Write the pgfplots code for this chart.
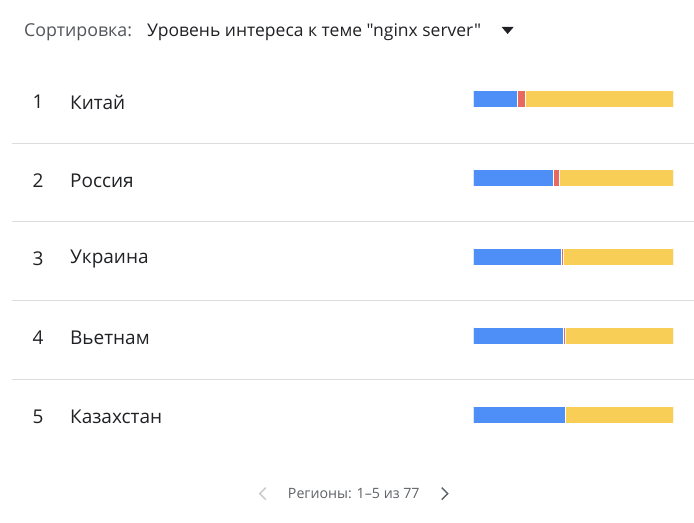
\documentclass[border=0pt]{standalone}
\usepackage{pgfplots}
\pgfplotsset{compat=1.18}
\usepackage{fontspec}
\newfontfamily\gfont{Open Sans}
\definecolor{gblue}{HTML}{4D8FF7}
\definecolor{gred}{HTML}{E86A5F}
\definecolor{gyellow}{HTML}{F9CE56}
\definecolor{gtext}{HTML}{202124}
\definecolor{ggrey}{HTML}{5F6368}
\definecolor{gline}{HTML}{DADCE0}
\begin{document}
\begin{tikzpicture}
\fill[white] (0,0) rectangle (694pt,-523pt);
% header
\node[anchor=west, font=\gfont\fontsize{17.8}{20}\selectfont, text=ggrey!80!gtext, inner sep=0] at (24pt,-32pt) {Сортировка:};
\node[anchor=west, font=\gfont\fontsize{17.5}{20}\selectfont, text=gtext, inner sep=0] at (147pt,-32pt) {Уровень интереса к теме "nginx server"};
\fill[gtext] (502pt,-27pt) -- (514pt,-27pt) -- (508pt,-34pt) -- cycle;
% separators
\foreach \yy in {144,222,301,380} {\draw[gline, line width=1pt] (12pt,-\yy pt) -- (694pt,-\yy pt);}
% row labels
\foreach \n/\name/\yy in {1/Китай/102,2/Россия/181,3/Украина/259,4/Вьетнам/338,5/Казахстан/417} {
  \node[font=\gfont\fontsize{19}{22}\selectfont, text=gtext, inner sep=0] at (38pt,-\yy pt) {\n};
  \node[anchor=west, font=\gfont\fontsize{19}{22}\selectfont, text=gtext, inner sep=0] at (70pt,-\yy pt) {\name};
}
% footer
\draw[gline!80!gray, line width=1.4pt] (266pt,-488pt) -- (260pt,-494pt) -- (266pt,-500pt);
\node[anchor=west, font=\gfont\fontsize{14.2}{17}\selectfont, text=ggrey, inner sep=0] at (288pt,-494pt) {Регионы: 1–5 из 77};
\draw[ggrey, line width=1.4pt] (442pt,-488pt) -- (448pt,-494pt) -- (442pt,-500pt);
\begin{axis}[
  at={(474pt,-454.5pt)}, anchor=south west,
  scale only axis, width=200pt, height=395pt,
  xmin=0, xmax=100, ymin=0.5, ymax=5.5,
  y dir=reverse, hide axis,
  xbar stacked, bar width=17pt,
  every axis plot/.append style={draw=white, line width=0.7pt},
]
\addplot[fill=gblue] coordinates {(22,1) (40,2) (44,3) (45,4) (46,5)};
\addplot[fill=gred] coordinates {(4,1) (3,2) (1,3) (1,4) (0,5)};
\addplot[fill=gyellow] coordinates {(74,1) (57,2) (55,3) (54,4) (54,5)};
\end{axis}
\end{tikzpicture}
\end{document}
